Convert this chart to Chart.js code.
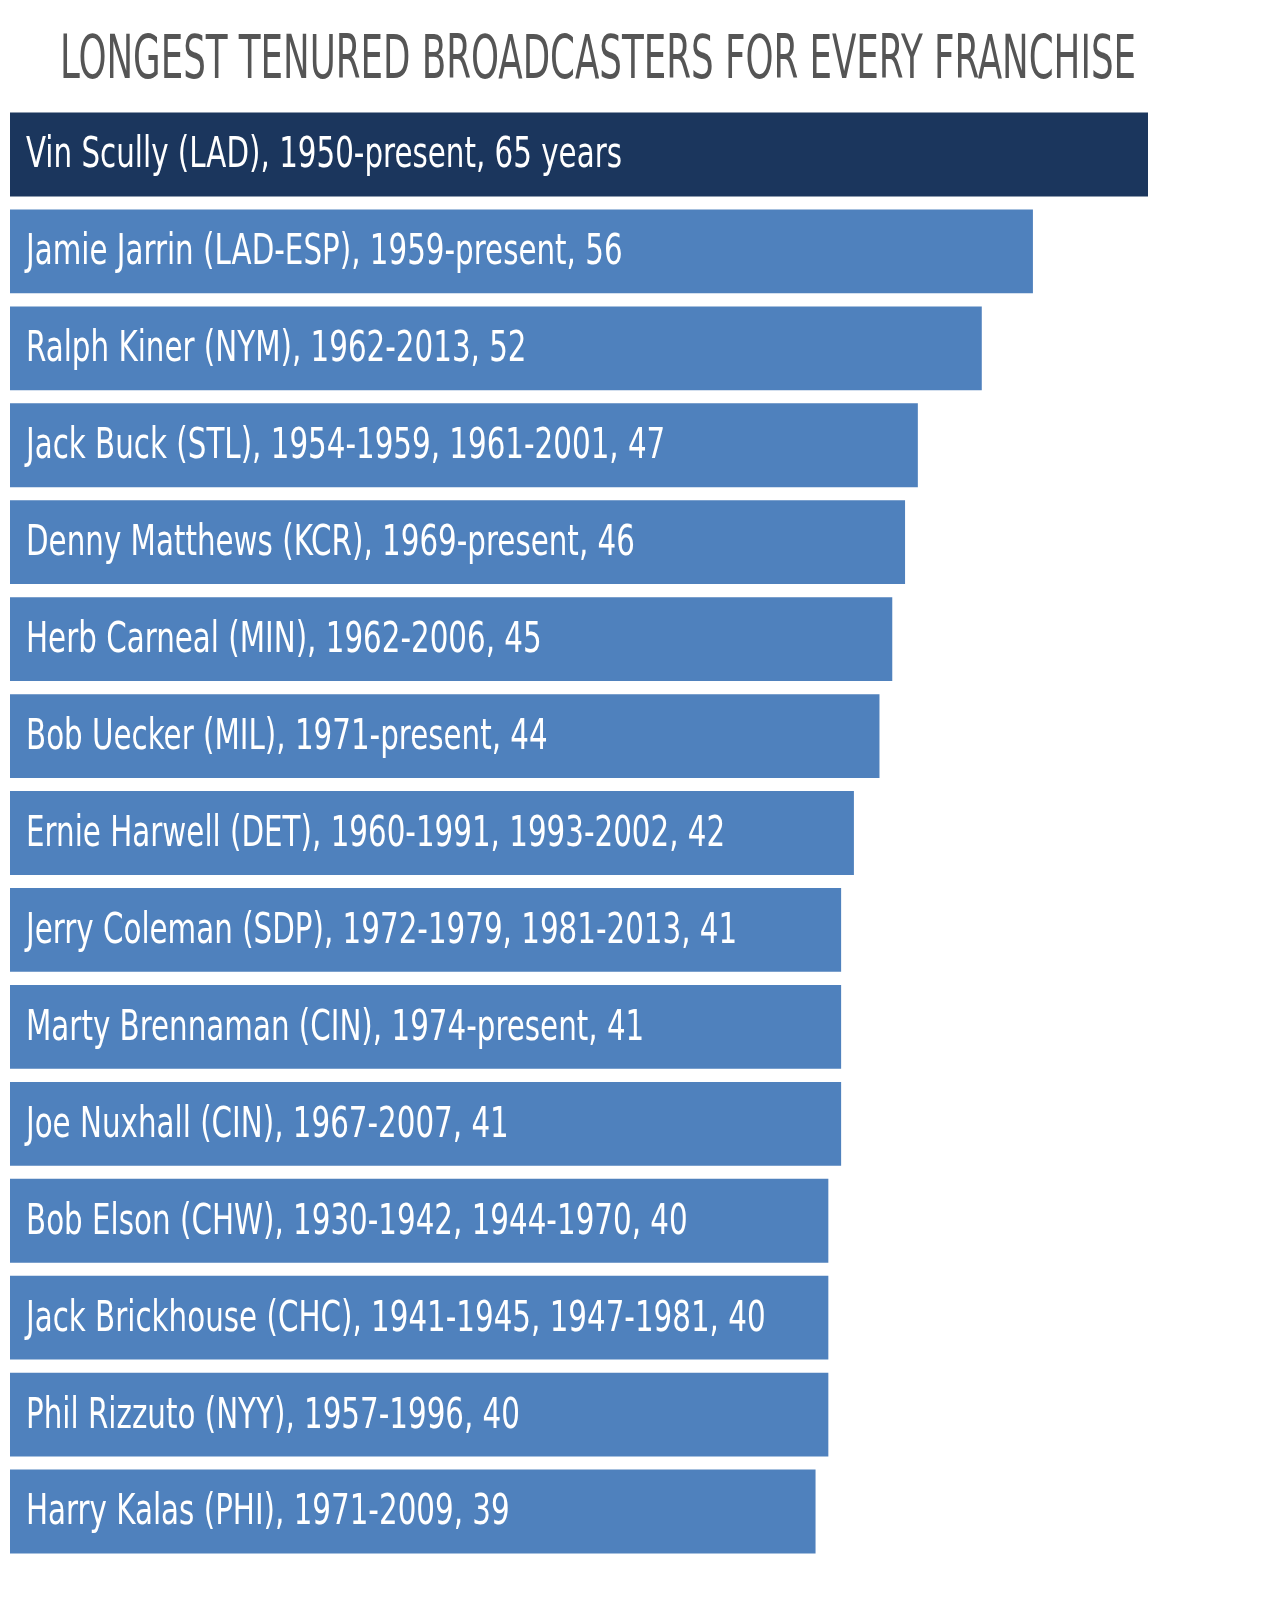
<!DOCTYPE html>
<html><head><meta charset="utf-8">
<script src="https://cdn.jsdelivr.net/npm/chart.js@4/dist/chart.umd.min.js"></script>
<style>html,body{margin:0;padding:0;background:#fff;overflow:hidden}#w{width:1266px;height:1600px}</style>
</head><body><div id="w"><canvas id="c"></canvas></div>
<script>
const titleText = 'LONGEST TENURED BROADCASTERS FOR EVERY FRANCHISE';
const labels = [
"Vin Scully (LAD), 1950-present, 65 years",
"Jamie Jarrin (LAD-ESP), 1959-present, 56",
"Ralph Kiner (NYM), 1962-2013, 52",
"Jack Buck (STL), 1954-1959, 1961-2001, 47",
"Denny Matthews (KCR), 1969-present, 46",
"Herb Carneal (MIN), 1962-2006, 45",
"Bob Uecker (MIL), 1971-present, 44",
"Ernie Harwell (DET), 1960-1991, 1993-2002, 42",
"Jerry Coleman (SDP), 1972-1979, 1981-2013, 41",
"Marty Brennaman (CIN), 1974-present, 41",
"Joe Nuxhall (CIN), 1967-2007, 41",
"Bob Elson (CHW), 1930-1942, 1944-1970, 40",
"Jack Brickhouse (CHC), 1941-1945, 1947-1981, 40",
"Phil Rizzuto (NYY), 1957-1996, 40",
"Harry Kalas (PHI), 1971-2009, 39"];
const years = [65,56,52,47,46,45,44,42,41,41,41,40,40,40,39];
const FONT = "'DejaVu Sans Condensed','DejaVu Sans',sans-serif";
const texts = {id:'texts', afterDatasetsDraw(ch){
  const ctx=ch.ctx; const meta=ch.getDatasetMeta(0);
  ctx.save(); ctx.fillStyle='#fff'; ctx.font='42px '+FONT; ctx.textBaseline='middle';
  const s = 596/ctx.measureText(labels[0]).width;
  meta.data.forEach((b,i)=>{ctx.save();ctx.translate(ch.chartArea.left+16,b.y+2);ctx.scale(s,1);ctx.fillText(labels[i],0,0);ctx.restore();});
  ctx.fillStyle='#555'; ctx.font='60px '+FONT; ctx.textBaseline='alphabetic';
  const ts = 1076/ctx.measureText(titleText).width;
  ctx.translate(60,78); ctx.scale(ts,1); ctx.fillText(titleText,0,0);
  ctx.restore();
}};
new Chart(document.getElementById('c'),{
  type:'bar',
  data:{labels,datasets:[{data:years,base:-24,
    backgroundColor:years.map((v,i)=>i===0?'#1b365d':'#4f81bd'),
    categoryPercentage:1,barPercentage:0.865}]},
  options:{indexAxis:'y',responsive:true,maintainAspectRatio:false,animation:false,
    layout:{padding:{left:10,right:118,top:106,bottom:40}},
    scales:{x:{display:false,min:-24,max:65},y:{display:false}},
    plugins:{legend:{display:false},tooltip:{enabled:false},title:{display:false}}},
  plugins:[texts]
});
</script></body></html>
